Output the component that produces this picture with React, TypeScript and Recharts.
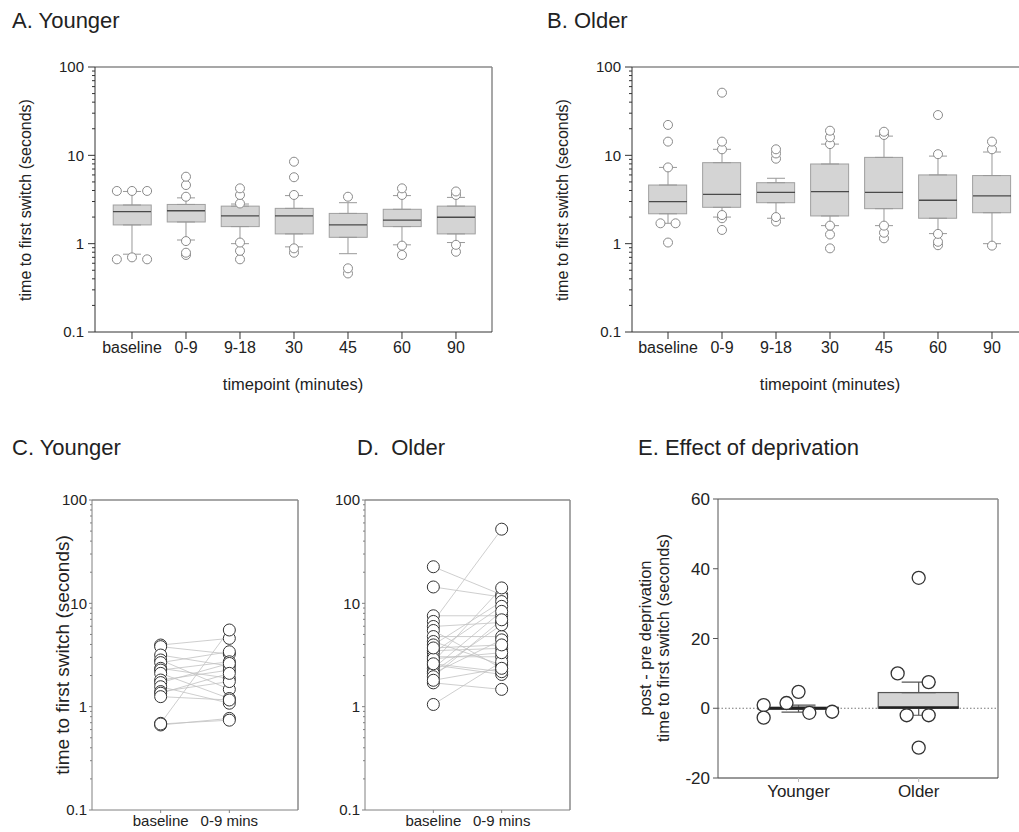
import React from "react";
import {
  Bar,
  ComposedChart,
  ErrorBar,
  Line,
  ReferenceLine,
  Scatter,
  XAxis,
  YAxis,
} from "recharts";

const FONT = '"Liberation Sans", Arial, Helvetica, sans-serif';

// tick labels
const timeLabels = ["baseline", "0-9", "9-18", "30", "45", "60", "90"];
const pairLabels = ["baseline", "0-9 mins"];
const groupLabels = ["Younger", "Older"];
const logMajor = [0.1, 1, 10, 100];
const logMinor = [
  0.2, 0.3, 0.4, 0.5, 0.6, 0.7, 0.8, 0.9, 2, 3, 4, 5, 6, 7, 8, 9, 20, 30, 40,
  50, 60, 70, 80, 90,
];
const logTicks = [...logMajor, ...logMinor];
const diffTicks = [-20, 0, 20, 40, 60];

// A. Younger: box plots (seconds)
const q1A = [1.63, 1.76, 1.56, 1.29, 1.18, 1.56, 1.29];
const medA = [2.3, 2.36, 2.06, 2.06, 1.63, 1.85, 1.99];
const q3A = [2.74, 2.78, 2.66, 2.51, 2.2, 2.45, 2.66];
const loA = [0.76, 1.1, 1.0, 0.92, 0.77, 0.97, 1.03];
const hiA = [3.9, 3.3, 2.81, 3.5, 2.91, 3.5, 3.34];
const outA = [
  [3.95, 3.95, 3.95, 0.665, 0.7, 0.665],
  [5.73, 4.61, 3.4, 1.07, 0.79, 0.745],
  [4.23, 3.56, 2.85, 1.03, 0.83, 0.665],
  [8.47, 5.65, 3.56, 0.885, 0.79],
  [3.4, 0.526, 0.46],
  [4.23, 3.56, 0.95, 0.745],
  [3.9, 3.56, 0.97, 0.81],
];

// B. Older: box plots (seconds)
const q1B = [2.18, 2.58, 2.91, 2.06, 2.49, 1.94, 2.24];
const medB = [2.99, 3.62, 3.81, 3.88, 3.81, 3.1, 3.47];
const q3B = [4.61, 8.26, 4.9, 7.98, 9.48, 6.0, 5.9];
const loB = [1.7, 2.0, 1.94, 1.6, 1.6, 1.3, 1.0];
const hiB = [7.3, 11.7, 5.5, 13.4, 16.5, 9.8, 10.9];
const outB = [
  [22.1, 14.3, 7.3, 1.7, 1.7, 1.03],
  [51.2, 14.3, 11.7, 2.11, 1.94, 1.43],
  [11.7, 10.5, 9.16, 2.0, 1.78],
  [19.0, 16.0, 13.4, 1.6, 1.27, 0.885],
  [18.5, 17.0, 1.6, 1.33, 1.15],
  [28.6, 10.3, 1.29, 1.05, 0.96],
  [14.3, 11.7, 0.95],
];

// C. Younger: paired baseline -> 0-9 mins
const youngBase = [
  3.95, 3.81, 3.16, 2.83, 2.67, 2.35, 2.26, 2.1, 1.81, 1.71, 1.56, 1.4, 1.35,
  1.25, 0.69, 0.665, 0.68,
];
const young09 = [
  4.58, 3.23, 2.47, 1.47, 3.4, 1.88, 2.72, 1.2, 2.26, 2.62, 1.08, 1.75, 2.1,
  1.16, 5.52, 0.77, 0.74,
];

// D. Older: paired baseline -> 0-9 mins
const oldBase = [
  22.6, 14.4, 7.58, 6.68, 5.97, 5.46, 4.77, 4.27, 3.96, 3.48, 3.33, 3.04, 2.72,
  2.53, 2.35, 2.18, 2.1, 1.95, 1.7, 1.05, 2.9, 2.6, 3.7, 1.8,
];
const old09 = [
  12.1, 11.5, 7.58, 52.2, 6.53, 2.35, 4.77, 2.53, 10.4, 3.67, 9.35, 3.04, 14.1,
  2.05, 8.36, 6.2, 4.43, 6.93, 1.47, 2.72, 3.33, 2.18, 3.96, 2.35,
];

// E. Effect of deprivation (post - pre, seconds)
const q1E = [-0.3, 0];
const medE = [0, 0.2];
const q3E = [0.3, 4.5];
const loE = [-1.1, -2.0];
const hiE = [0.9, 7.5];
const youngerDiff = [0.9, -2.7, 1.5, 4.7, -1.3, -1.0];
const youngerSpread = [-0.29, -0.29, -0.1, 0, 0.09, 0.28];
const olderDiff = [10.0, 7.5, 37.4, -2.0, -2.0, -11.3];
const olderSpread = [-0.175, 0.083, 0, -0.1, 0.083, 0];

function boxRows(q1: number[], med: number[], q3: number[], lo: number[], hi: number[]) {
  return q1.map((v, i) => ({
    x: i,
    box: [v, q3[i]],
    q1: v,
    med: med[i],
    q3: q3[i],
    lo: lo[i],
    hi: hi[i],
  }));
}

// tied outliers are put side by side, like the original software does
function outlierPoints(groups: number[][], step: number) {
  const pts: { x: number; v: number }[] = [];
  groups.forEach((vals, i) => {
    const order = vals.map((_, k) => k).sort((a, b) => vals[a] - vals[b]);
    const clusters: number[][] = [];
    order.forEach((k) => {
      const last = clusters[clusters.length - 1];
      if (
        last &&
        Math.abs(Math.log10(vals[k]) - Math.log10(vals[last[last.length - 1]])) < 0.025
      )
        last.push(k);
      else clusters.push([k]);
    });
    clusters.forEach((c) => {
      c.sort((a, b) => a - b).forEach((k, j) =>
        pts.push({ x: i + (j - (c.length - 1) / 2) * step, v: vals[k] })
      );
    });
  });
  return pts;
}

function LogTick(props: any) {
  const { x, y, payload, fontSize, major, minor, gap, color } = props;
  const v = payload.value;
  const isMajor = logMajor.includes(v);
  return (
    <g>
      <line x1={x - (isMajor ? major : minor)} x2={x} y1={y} y2={y} stroke={color} />
      {isMajor && (
        <text
          x={x - major - gap}
          y={y}
          dy="0.36em"
          textAnchor="end"
          fontSize={fontSize}
          fill="#222"
          fontFamily={FONT}
        >
          {String(v)}
        </text>
      )}
    </g>
  );
}

const hidden = () => <g />;

// box drawn with a fixed width around the centre Recharts gives the bar
const boxShape = (w: number, stroke: string, sw: number) => (p: any) =>
  (
    <rect
      x={p.x + p.width / 2 - w / 2}
      y={p.y}
      width={w}
      height={Math.max(p.height, 0)}
      fill="#d4d4d4"
      stroke={stroke}
      strokeWidth={sw}
    />
  );

function BoxPanel({
  q1, med, q3, lo, hi, out, width, yWidth, right, domain,
}: {
  q1: number[]; med: number[]; q3: number[]; lo: number[]; hi: number[];
  out: number[][]; width: number; yWidth: number; right: number; domain: [number, number];
}) {
  const rows = boxRows(q1, med, q3, lo, hi);
  const pts = outlierPoints(out, 0.28);
  return (
    <ComposedChart
      width={width}
      height={360}
      data={rows}
      margin={{ top: 67, right, left: 0, bottom: 0 }}
    >
      <XAxis
        dataKey="x"
        type="number"
        domain={domain}
        allowDataOverflow
        ticks={timeLabels.map((_, i) => i)}
        interval={0}
        tickFormatter={(v) => timeLabels[v] ?? ""}
        tickSize={7}
        tickMargin={3}
        height={28}
        tick={{ fontSize: 16, fill: "#222", fontFamily: FONT }}
        axisLine={{ stroke: "#333" }}
        tickLine={{ stroke: "#333" }}
      />
      <YAxis
        type="number"
        scale="log"
        domain={[0.1, 100]}
        allowDataOverflow
        ticks={logTicks}
        interval={0}
        width={yWidth}
        tickSize={0}
        tickMargin={0}
        tickLine={false}
        axisLine={{ stroke: "#333" }}
        tick={(p: any) => (
          <LogTick {...p} fontSize={15} major={7} minor={3} gap={4} color="#333" />
        )}
      />
      <ReferenceLine y={100} stroke="#8a8a8a" strokeWidth={1.5} />
      <ReferenceLine x={domain[1]} stroke="#8a8a8a" strokeWidth={1.5} />
      <Scatter dataKey="q1" shape={hidden} isAnimationActive={false}>
        <ErrorBar
          dataKey={(d: any) => [d.q1 - d.lo, 0]}
          direction="y"
          width={9}
          stroke="#999"
          strokeWidth={1}
        />
      </Scatter>
      <Scatter dataKey="q3" shape={hidden} isAnimationActive={false}>
        <ErrorBar
          dataKey={(d: any) => [0, d.hi - d.q3]}
          direction="y"
          width={9}
          stroke="#999"
          strokeWidth={1}
        />
      </Scatter>
      <Bar
        dataKey="box"
        barSize={38}
        shape={boxShape(38, "#a0a0a0", 1)}
        isAnimationActive={false}
      />
      <Scatter
        dataKey="med"
        isAnimationActive={false}
        shape={(p: any) => (
          <line x1={p.cx - 19} x2={p.cx + 19} y1={p.cy} y2={p.cy} stroke="#4a4a4a" strokeWidth={1.3} />
        )}
      />
      <Scatter
        data={pts}
        dataKey="v"
        isAnimationActive={false}
        shape={(p: any) => (
          <circle cx={p.cx} cy={p.cy} r={4.5} fill="#fff" stroke="#8a8a8a" strokeWidth={1} />
        )}
      />
    </ComposedChart>
  );
}

function PairPanel({
  base, post, width, yWidth, right,
}: { base: number[]; post: number[]; width: number; yWidth: number; right: number }) {
  const pts = [
    ...base.map((v) => ({ x: 0, v })),
    ...post.map((v) => ({ x: 1, v })),
  ];
  return (
    <ComposedChart width={width} height={420} margin={{ top: 80, right, left: 0, bottom: 5 }}>
      <XAxis
        dataKey="x"
        type="number"
        domain={[-1, 2]}
        allowDataOverflow
        ticks={[0, 1]}
        interval={0}
        tickFormatter={(v) => pairLabels[v] ?? ""}
        tickSize={3}
        tickMargin={2}
        height={25}
        tick={{ fontSize: 15, fill: "#222", fontFamily: FONT }}
        axisLine={{ stroke: "#808080" }}
        tickLine={{ stroke: "#808080" }}
      />
      <YAxis
        type="number"
        scale="log"
        domain={[0.1, 100]}
        allowDataOverflow
        ticks={logTicks}
        interval={0}
        width={yWidth}
        tickSize={0}
        tickMargin={0}
        tickLine={false}
        axisLine={{ stroke: "#808080" }}
        tick={(p: any) => (
          <LogTick {...p} fontSize={15} major={3} minor={2} gap={2} color="#808080" />
        )}
      />
      <ReferenceLine y={100} stroke="#8a8a8a" strokeWidth={1.5} />
      <ReferenceLine x={2} stroke="#8a8a8a" strokeWidth={1.5} />
      {base.map((b, i) => (
        <Line
          key={i}
          data={[
            { x: 0, v: b },
            { x: 1, v: post[i] },
          ]}
          dataKey="v"
          stroke="#c2c2c2"
          strokeWidth={0.8}
          dot={false}
          isAnimationActive={false}
        />
      ))}
      <Scatter
        data={pts}
        dataKey="v"
        isAnimationActive={false}
        shape={(p: any) => (
          <circle cx={p.cx} cy={p.cy} r={6} fill="#fff" stroke="#333" strokeWidth={1} />
        )}
      />
    </ComposedChart>
  );
}

function EffectPanel() {
  const rows = boxRows(q1E, medE, q3E, loE, hiE);
  const pts = [
    ...youngerDiff.map((v, i) => ({ x: 0 + youngerSpread[i], v })),
    ...olderDiff.map((v, i) => ({ x: 1 + olderSpread[i], v })),
  ];
  const domain: [number, number] = [-0.67, 1.66];
  return (
    <ComposedChart
      width={419}
      height={420}
      data={rows}
      margin={{ top: 79, right: 21, left: 0, bottom: 32 }}
    >
      <XAxis
        dataKey="x"
        type="number"
        domain={domain}
        allowDataOverflow
        ticks={[0, 1]}
        interval={0}
        tickFormatter={(v) => groupLabels[v] ?? ""}
        tickSize={4}
        tickMargin={3}
        height={30}
        tick={{ fontSize: 17, fill: "#222", fontFamily: FONT }}
        axisLine={{ stroke: "#333" }}
        tickLine={{ stroke: "#bbb" }}
      />
      <YAxis
        type="number"
        domain={[-20, 60]}
        allowDataOverflow
        ticks={diffTicks}
        interval={0}
        width={118}
        tickSize={5}
        tickMargin={3}
        tick={{ fontSize: 17, fill: "#222", fontFamily: FONT }}
        axisLine={{ stroke: "#555" }}
        tickLine={{ stroke: "#555" }}
      />
      <ReferenceLine y={60} stroke="#8a8a8a" strokeWidth={1.5} />
      <ReferenceLine x={domain[1]} stroke="#8a8a8a" strokeWidth={1.5} />
      <ReferenceLine y={0} stroke="#777" strokeDasharray="1.5 2" />
      <Scatter dataKey="q1" shape={hidden} isAnimationActive={false}>
        <ErrorBar
          dataKey={(d: any) => [d.q1 - d.lo, 0]}
          direction="y"
          width={17}
          stroke="#555"
          strokeWidth={1.2}
        />
      </Scatter>
      <Scatter dataKey="q3" shape={hidden} isAnimationActive={false}>
        <ErrorBar
          dataKey={(d: any) => [0, d.hi - d.q3]}
          direction="y"
          width={17}
          stroke="#555"
          strokeWidth={1.2}
        />
      </Scatter>
      <Bar
        dataKey="box"
        barSize={80}
        shape={boxShape(80, "#555", 1.2)}
        isAnimationActive={false}
      />
      <Scatter
        dataKey="med"
        isAnimationActive={false}
        shape={(p: any) => (
          <line x1={p.cx - 40} x2={p.cx + 40} y1={p.cy} y2={p.cy} stroke="#222" strokeWidth={2.5} />
        )}
      />
      <Scatter
        data={pts}
        dataKey="v"
        isAnimationActive={false}
        shape={(p: any) => (
          <circle cx={p.cx} cy={p.cy} r={6.5} fill="#fff" stroke="#333" strokeWidth={1.3} />
        )}
      />
    </ComposedChart>
  );
}

function Title({ x, y, children }: { x: number; y: number; children: React.ReactNode }) {
  return (
    <div
      style={{
        position: "absolute",
        left: x,
        top: y,
        fontSize: 22,
        lineHeight: "22px",
        whiteSpace: "pre",
      }}
    >
      {children}
    </div>
  );
}

function AxisTitle({
  cx, cy, size, rotate, children,
}: { cx: number; cy: number; size: number; rotate?: boolean; children: React.ReactNode }) {
  return (
    <div
      style={{
        position: "absolute",
        left: cx,
        top: cy,
        fontSize: size,
        lineHeight: `${size + 1}px`,
        whiteSpace: "nowrap",
        textAlign: "center",
        transform: `translate(-50%, -50%)${rotate ? " rotate(-90deg)" : ""}`,
      }}
    >
      {children}
    </div>
  );
}

export default function App() {
  return (
    <div
      style={{
        position: "absolute",
        left: 0,
        top: 0,
        width: 1019,
        height: 832,
        overflow: "hidden",
        background: "#fff",
        fontFamily: FONT,
        color: "#222",
      }}
    >
      <div style={{ position: "absolute", left: 0, top: 0 }}>
        <BoxPanel
          q1={q1A} med={medA} q3={q3A} lo={loA} hi={hiA} out={outA}
          width={520} yWidth={95} right={28} domain={[-0.685, 6.667]}
        />
      </div>
      <div style={{ position: "absolute", left: 540, top: 0 }}>
        <BoxPanel
          q1={q1B} med={medB} q3={q3B} lo={loB} hi={hiB} out={outB}
          width={500} yWidth={92} right={12} domain={[-0.667, 6.667]}
        />
      </div>
      <div style={{ position: "absolute", left: 0, top: 420 }}>
        <PairPanel base={youngBase} post={young09} width={320} yWidth={92} right={22} />
      </div>
      <div style={{ position: "absolute", left: 300, top: 420 }}>
        <PairPanel base={oldBase} post={old09} width={290} yWidth={65} right={20} />
      </div>
      <div style={{ position: "absolute", left: 600, top: 420 }}>
        <EffectPanel />
      </div>

      <Title x={12} y={10}>A. Younger</Title>
      <Title x={547} y={10}>B. Older</Title>
      <Title x={12} y={437}>C. Younger</Title>
      <Title x={357} y={437}>{"D.  Older"}</Title>
      <Title x={638} y={437}>E. Effect of deprivation</Title>

      <AxisTitle cx={25} cy={200} size={16} rotate>
        time to first switch (seconds)
      </AxisTitle>
      <AxisTitle cx={562} cy={200} size={16} rotate>
        time to first switch (seconds)
      </AxisTitle>
      <AxisTitle cx={293} cy={385} size={16.5}>
        timepoint (minutes)
      </AxisTitle>
      <AxisTitle cx={830} cy={385} size={16.5}>
        timepoint (minutes)
      </AxisTitle>
      <AxisTitle cx={63} cy={655} size={19} rotate>
        time to first switch (seconds)
      </AxisTitle>
      <AxisTitle cx={654} cy={638} size={16.5} rotate>
        post - pre deprivation
        <br />
        time to first switch (seconds)
      </AxisTitle>
    </div>
  );
}
